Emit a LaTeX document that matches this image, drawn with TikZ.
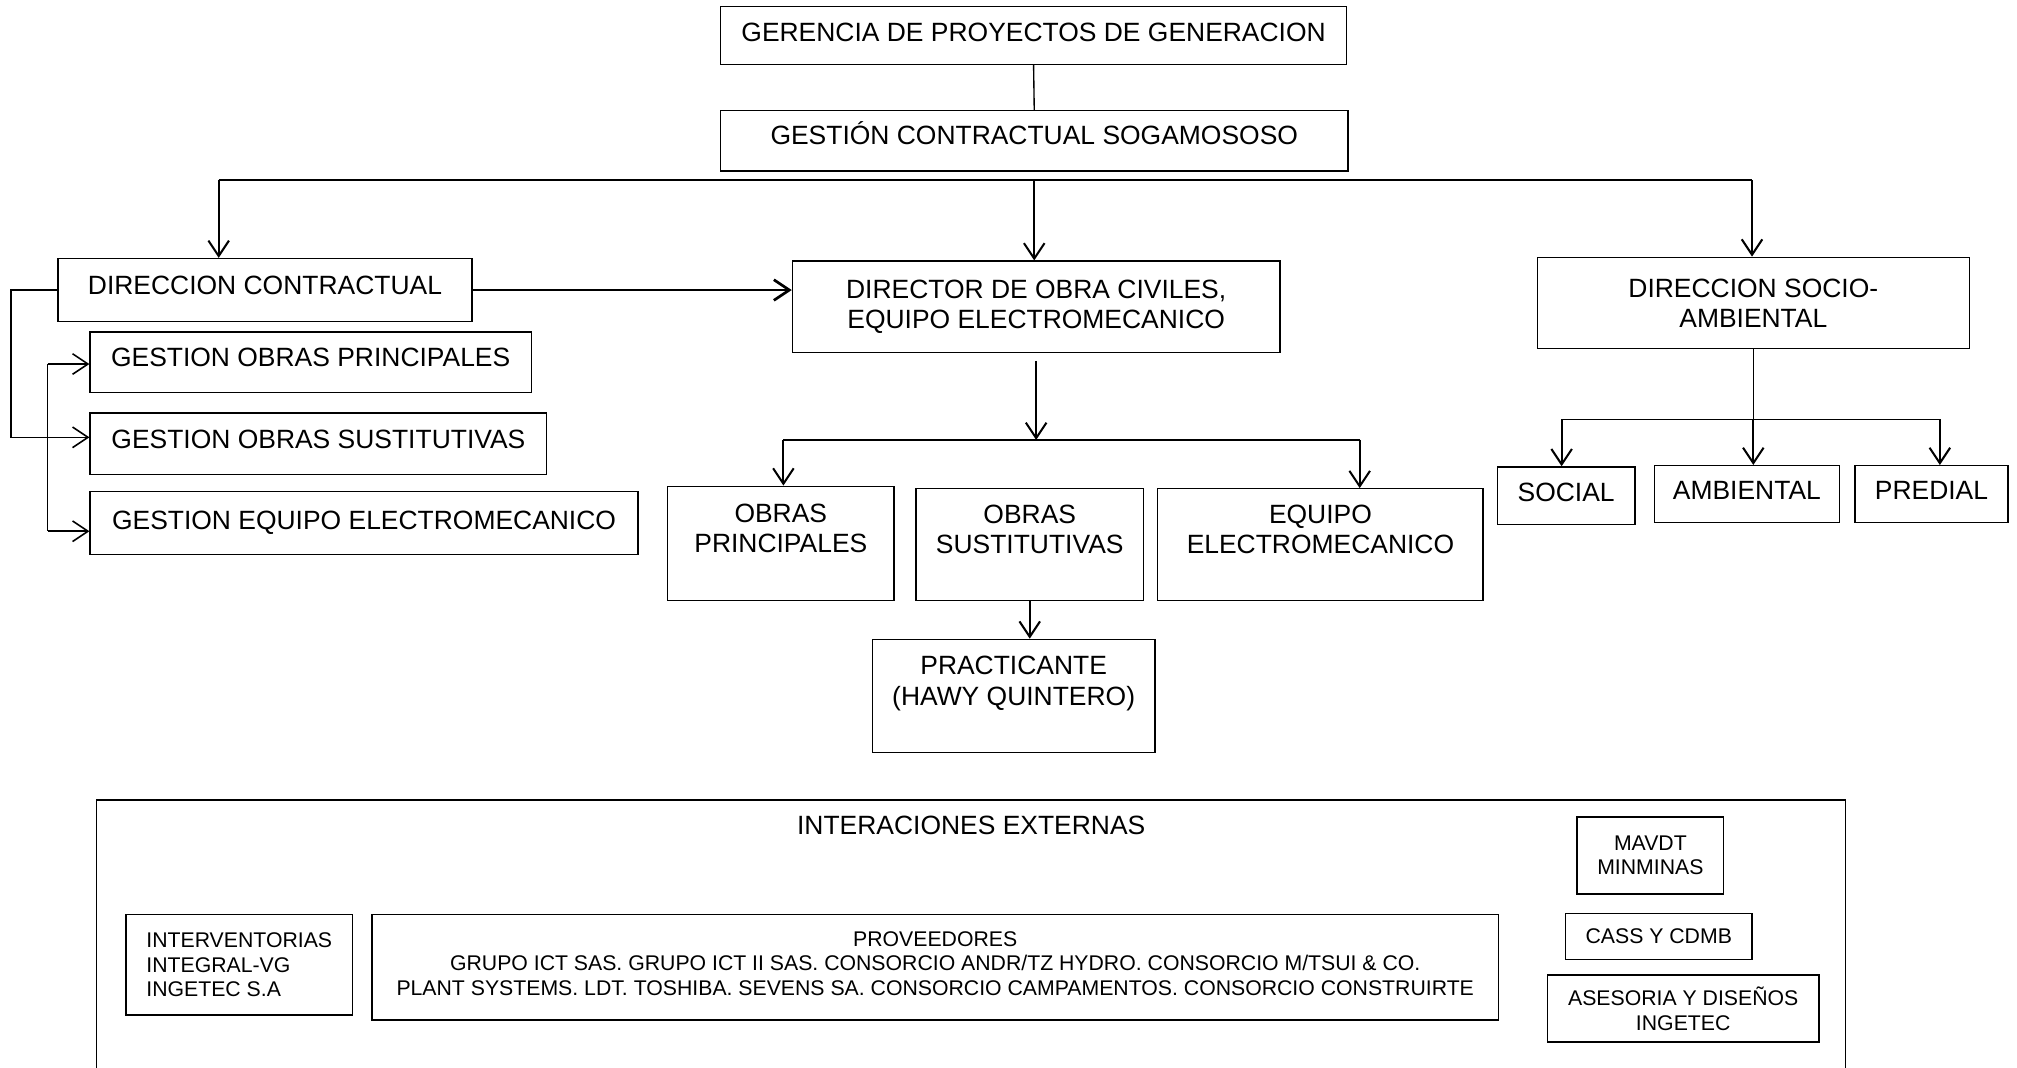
\documentclass[tikz,border=0pt]{standalone}
\usepackage{fontspec}
\setmainfont{Liberation Sans}
\usetikzlibrary{arrows.meta, positioning}
\tikzset{
  box/.style={draw=black, line width=0.6pt, inner sep=0pt, align=center, font=\fontsize{11.7}{13.4}\selectfont},
  smallbox/.style={box, font=\fontsize{9.4}{10.9}\selectfont},
  lift/.style={text height=8.4pt, text depth=#1},
  lift/.default=4.4pt,
  txt/.style={inner sep=0pt, font=\fontsize{11.7}{13.4}\selectfont},
  link/.style={line width=0.6pt},
  tip/.style={-{Straight Barb[length=0.24cm, width=0.32cm]}, line width=0.9pt},
  sidetip/.style={tip, line width=0.7pt},
  heavy/.style={tip, line width=1.2pt},
}

\begin{document}
\begin{tikzpicture}[x=0.02cm, y=-0.02cm]
  \useasboundingbox (0,0) rectangle (1568,830);

  % Top levels
  \node[box, lift=3.2pt, minimum width=9.74cm, minimum height=0.90cm] (ger) at (803.5,27.5) {GERENCIA DE PROYECTOS DE GENERACION};
  \node[box, lift=5.6pt, minimum width=9.76cm, minimum height=0.94cm] (ges) at (804,109.5) {GESTIÓN CONTRACTUAL SOGAMOSOSO};
  \draw[link] (ger.south) -- (ges.north);

  % Three directions
  \node[box, lift, minimum width=6.44cm, minimum height=0.98cm] (dc) at (206,225.5) {DIRECCION CONTRACTUAL};
  \node[box, minimum width=7.58cm, minimum height=1.42cm] (dir) at (805.5,238.5) {DIRECTOR DE OBRA CIVILES,\\EQUIPO ELECTROMECANICO};
  \node[box, minimum width=6.72cm, minimum height=1.42cm] (sa) at (1363,235.5) {DIRECCION SOCIO-\\AMBIENTAL};

  \coordinate (busL) at (170,140);
  \coordinate (busR) at (1362,140);
  \draw[link] (busL) -- (busR);
  \draw[tip] (busL) -- (busL |- dc.north);
  \draw[tip] (ges.south |- busL) -- (ges.south |- dir.north);
  \draw[tip] (busR) -- (busR |- sa.north);
  \draw[heavy] (dc.east) -- (dc.east -| dir.west);

  % Contractual branch
  \node[box, lift, minimum width=6.86cm, minimum height=0.94cm] (gop) at (241.5,281.5) {GESTION OBRAS PRINCIPALES};
  \node[box, lift, minimum width=7.10cm, minimum height=0.96cm] (gos) at (247.5,345) {GESTION OBRAS SUSTITUTIVAS};
  \node[box, lift=2.2pt, minimum width=8.52cm, minimum height=0.98cm] (goe) at (283,406.5) {GESTION EQUIPO ELECTROMECANICO};

  \draw[sidetip] (dc.west) -- ++(-36,0) |- ([yshift=0.1cm]gos.west);
  \coordinate (spine) at (37,0);
  \draw[link] (spine |- gop.west) ++(0,1.5) -- (spine |- goe.west) -- ++(0,6.5);
  \draw[sidetip] ([yshift=-0.03cm]spine |- gop.west) -- ([yshift=-0.03cm]gop.west);
  \draw[sidetip] ([yshift=-0.13cm]spine |- goe.west) -- ([yshift=-0.13cm]goe.west);

  % Civil works branch
  \node[box, minimum width=3.52cm, minimum height=1.78cm] (op) at (607,422.5) {OBRAS\\PRINCIPALES\\\mbox{}};
  \node[box, minimum width=3.54cm, minimum height=1.74cm] (os) at (800.5,423.5) {OBRAS\\SUSTITUTIVAS\\\mbox{}};
  \node[box, minimum width=5.06cm, minimum height=1.74cm] (eq) at (1026.5,423.5) {EQUIPO\\ELECTROMECANICO\\\mbox{}};
  \node[box, minimum width=4.40cm, minimum height=1.76cm] (pr) at (788,541) {PRACTICANTE\\(HAWY QUINTERO)\\\mbox{}};

  \coordinate (dirL) at (609,342);
  \coordinate (dirR) at (1057,342);
  \draw[tip] ([yshift=-0.12cm]dir.south) -- (dir.south |- dirL);
  \draw[link] (dirL) -- (dirR);
  \draw[tip] (dirL) -- (dirL |- op.north);
  \draw[tip] (dirR) -- (dirR |- eq.north);
  \draw[tip] (os.south) -- (os.south |- pr.north);

  % Socio-environmental branch
  \node[box, lift=3.2pt, minimum width=2.14cm, minimum height=0.90cm] (so) at (1217.5,385.5) {SOCIAL};
  \node[box, lift=3.6pt, minimum width=2.88cm, minimum height=0.88cm] (am) at (1358,384) {AMBIENTAL};
  \node[box, lift=3.6pt, minimum width=2.38cm, minimum height=0.88cm] (pd) at (1501.5,384) {PREDIAL};

  \coordinate (saL) at (1214,326);
  \coordinate (saR) at (1508,326);
  \draw[link] (sa.south) -- (sa.south |- saL);
  \draw[link] (saL) -- (saR);
  \draw[tip] (saL) -- (saL |- so.north);
  \draw[tip] (sa.south |- saL) -- (sa.south |- am.north);
  \draw[tip] (saR) -- (saR |- pd.north);

  % External interactions
  \node[box, minimum width=27.20cm, minimum height=4.36cm] (ext) at (755,731) {};
  \node[txt] (extT) at (755,642) {INTERACIONES EXTERNAS};
  \node[smallbox, minimum width=2.28cm, minimum height=1.20cm] (mav) at (1283,665) {MAVDT\\MINMINAS};
  \node[smallbox, align=left, minimum width=3.52cm, minimum height=1.56cm] (itv) at (186,750) {INTERVENTORIAS\\INTEGRAL-VG\\INGETEC S.A};
  \node[smallbox, minimum width=17.52cm, minimum height=1.64cm] (prv) at (727,752) {PROVEEDORES\\GRUPO ICT SAS. GRUPO ICT II SAS. CONSORCIO ANDR/TZ HYDRO. CONSORCIO M/TSUI \& CO.\\PLANT SYSTEMS. LDT. TOSHIBA. SEVENS SA. CONSORCIO CAMPAMENTOS. CONSORCIO CONSTRUIRTE\\[-0.26cm]\mbox{}};
  \node[smallbox, minimum width=2.90cm, minimum height=0.72cm] (cas) at (1289.5,728) {CASS Y CDMB};
  \node[smallbox, minimum width=4.22cm, minimum height=1.04cm] (ase) at (1308.5,784) {ASESORIA Y DISEÑOS\\INGETEC};
\end{tikzpicture}
\end{document}
